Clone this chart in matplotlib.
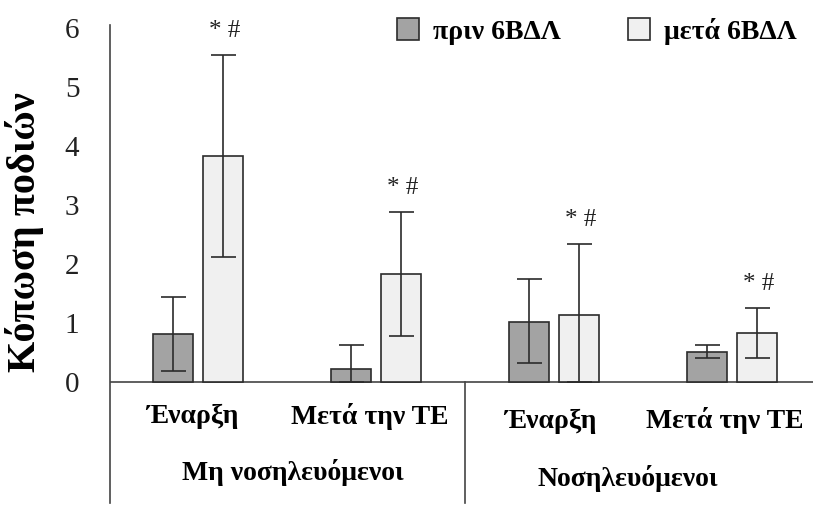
import numpy as np
import matplotlib.pyplot as plt

# dane
grupy = ['Έναρξη', 'Μετά την ΤΕ', 'Έναρξη', 'Μετά την ΤΕ']
kategorie = ['Μη νοσηλευόμενοι', 'Νοσηλευόμενοι']
przed = [0.81, 0.22, 1.02, 0.51]
przed_err_gora = [0.63, 0.41, 0.72, 0.11]
przed_err_dol = [0.63, 0.22, 0.70, 0.10]
po = [3.83, 1.83, 1.13, 0.83]
po_err_gora = [1.71, 1.05, 1.21, 0.42]
po_err_dol = [1.71, 1.05, 1.13, 0.43]
legenda = ['πριν 6ΒΔΛ', 'μετά 6ΒΔΛ']
znacznik = '* #'

plt.rcParams['font.family'] = ['Liberation Serif', 'DejaVu Serif']

fig = plt.figure(figsize=(8.13, 5.09), dpi=100)
ax = fig.add_axes([110 / 813, 6 / 509, 703 / 813, 478 / 509])

x = np.arange(len(grupy))
w = 0.225
off = 0.14
b1 = ax.bar(x - off, przed, w, color='#a3a3a3', edgecolor='#2b2b2b', linewidth=1.2, zorder=2)
b2 = ax.bar(x + off, po, w, color='#f0f0f0', edgecolor='#2b2b2b', linewidth=1.2, zorder=2)
ax.errorbar(x - off, przed, yerr=[przed_err_dol, przed_err_gora], fmt='none', ecolor='#2b2b2b',
            elinewidth=1.2, capsize=9, capthick=1.2, zorder=3)
ax.errorbar(x + off, po, yerr=[po_err_dol, po_err_gora], fmt='none', ecolor='#2b2b2b',
            elinewidth=1.2, capsize=9, capthick=1.2, zorder=3)

# * # nad slupkami
for i in range(len(grupy)):
    top = po[i] + po_err_gora[i]
    ax.text(x[i] + off + 0.01, top + 0.22, znacznik, ha='center', va='bottom',
            fontsize=18, color='#222222')

ax.set_xlim(-0.494, 3.455)
ax.set_ylim(-2.05, 6.05)
ax.set_yticks(range(7))
ax.tick_params(axis='y', length=0, labelsize=21, pad=22, colors='#222222')
ax.set_xticks([])
for s in ['top', 'right', 'bottom']:
    ax.spines[s].set_visible(False)
ax.spines['left'].set_color('#444444')
ax.spines['left'].set_linewidth(1.2)
ax.axhline(0, color='#444444', linewidth=1.2, zorder=1)
ax.plot([1.5, 1.5], [0, -2.05], color='#444444', linewidth=1.2, clip_on=False)

fig.text(25 / 813, 1 - 232 / 509, 'Κόπωση ποδιών', rotation=90, ha='center', va='center',
         fontsize=29, fontweight='bold')

# etykiety osi x
pozycje = [-0.034, 0.966, 1.978, 2.96]
wys = [-0.59, -0.59, -0.66, -0.66]
for p, h, t in zip(pozycje, wys, grupy):
    ax.text(p, h, t, ha='center', va='center', fontsize=20, fontweight='bold')
ax.text(0.534, -1.53, kategorie[0], ha='center', va='center', fontsize=20, fontweight='bold')
ax.text(2.416, -1.63, kategorie[1], ha='center', va='center', fontsize=20, fontweight='bold')

ax.legend([b1, b2], legenda, loc='upper right', bbox_to_anchor=(1.0, 1.05), ncol=2,
          frameon=False, prop={'size': 20, 'weight': 'bold'},
          handlelength=0.8, handleheight=0.8, columnspacing=2.4, handletextpad=0.5,
          borderaxespad=0.2)

fig.savefig('out.png', dpi=100)
